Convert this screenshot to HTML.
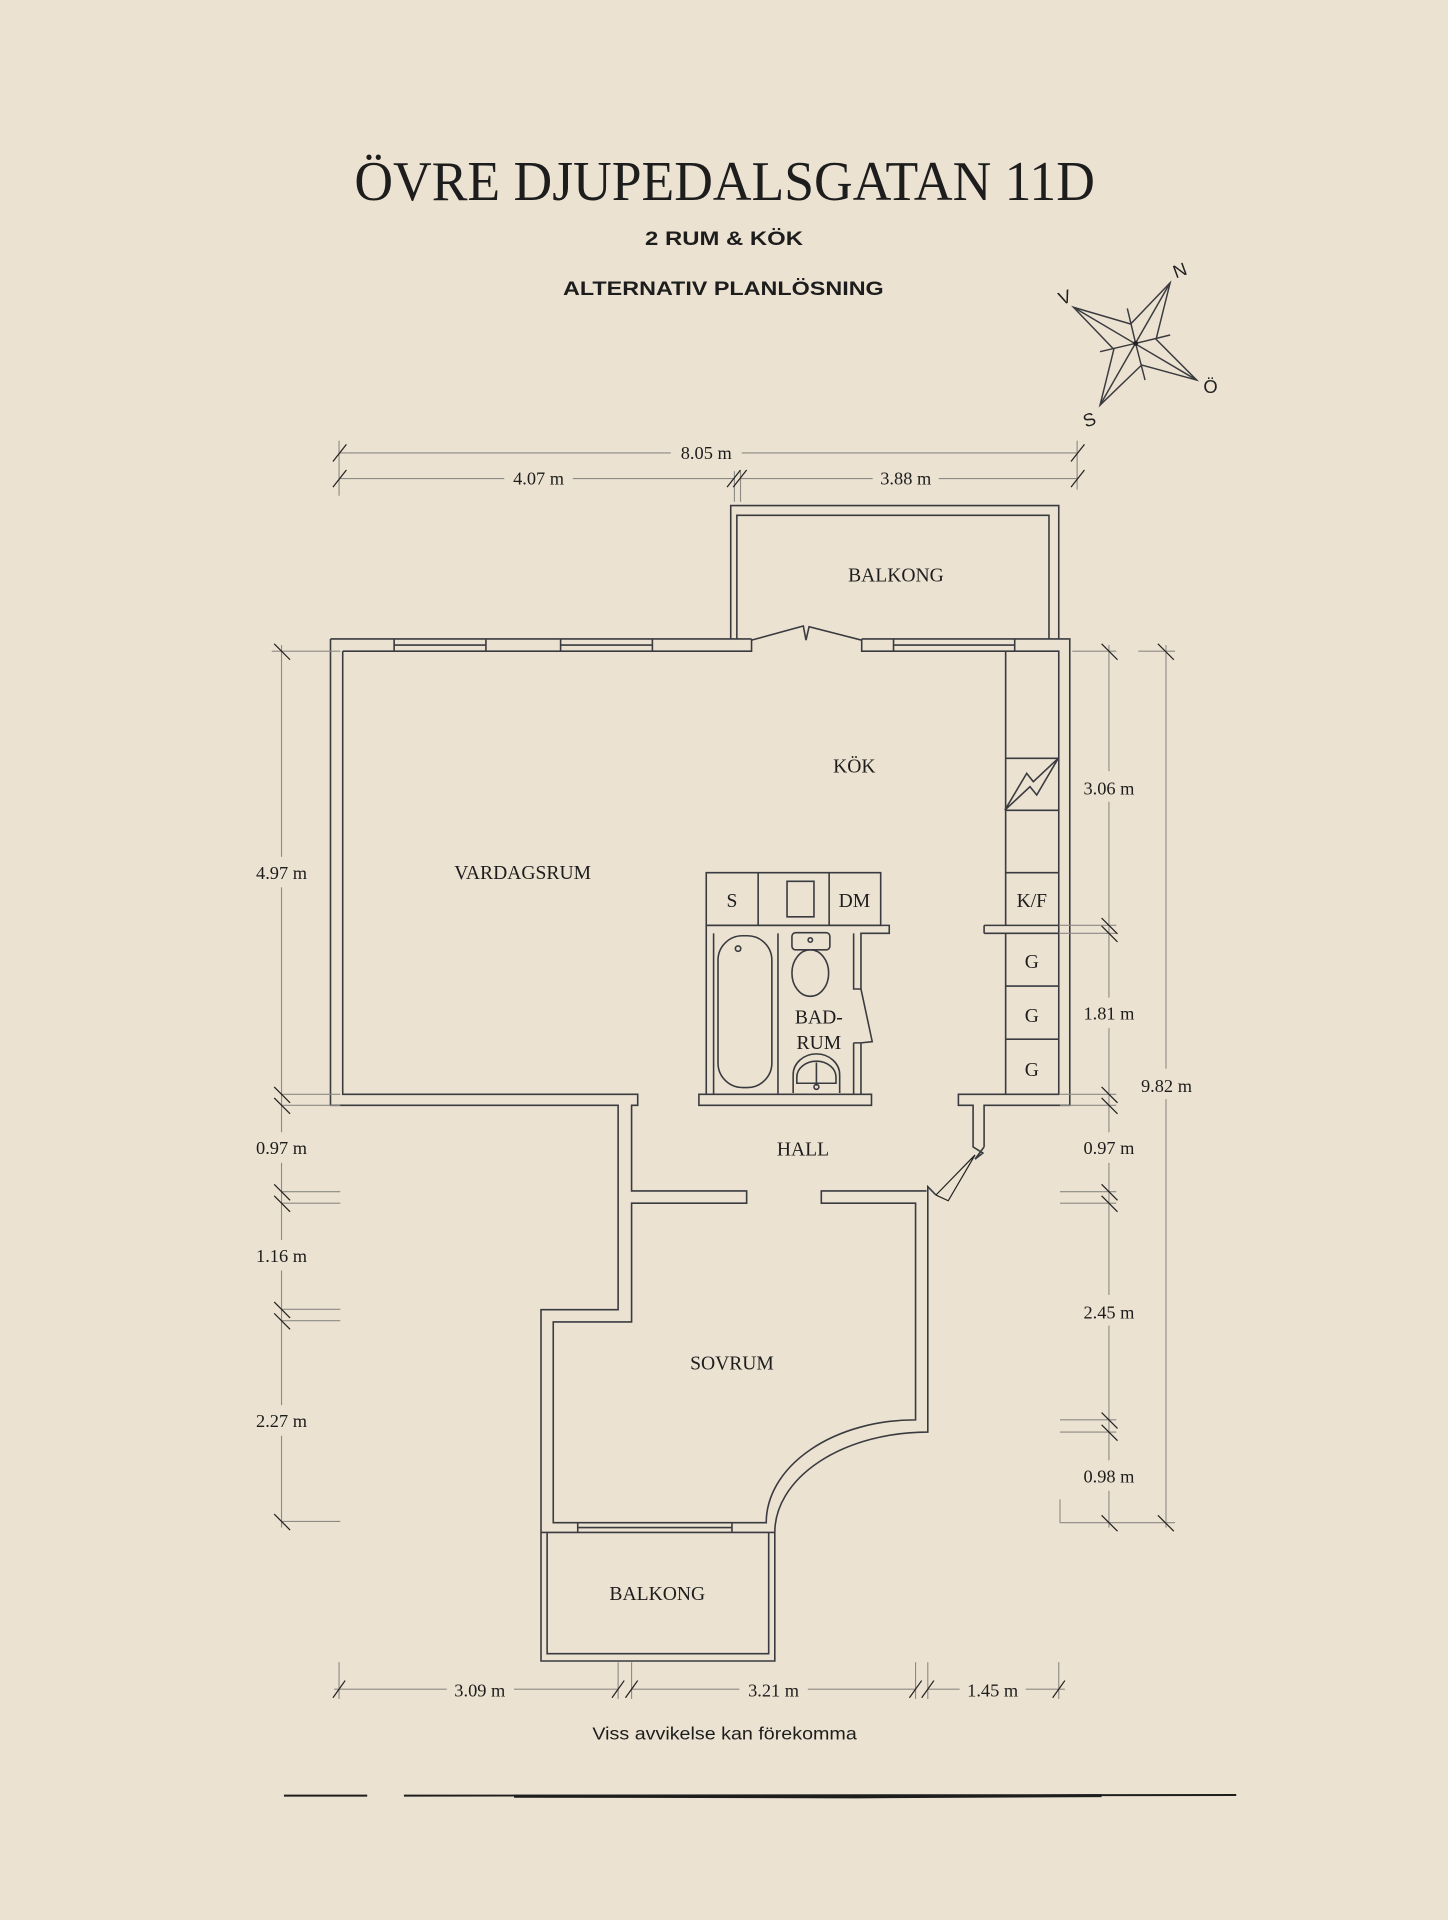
<!DOCTYPE html>
<html><head><meta charset="utf-8">
<style>
html,body{margin:0;padding:0;background:#ebe2d1;}
svg{display:block;}
.w{fill:none;stroke:#3a3b40;stroke-width:1.3;stroke-linejoin:miter;}
.d{fill:none;stroke:#8c8a85;stroke-width:0.9;}
.t{fill:none;stroke:#222;stroke-width:1;}
.lab{font-family:"Liberation Serif",serif;font-size:16px;fill:#1d1d1d;text-anchor:middle;}
.dim{font-family:"Liberation Serif",serif;font-size:15px;fill:#1d1d1d;text-anchor:middle;}
</style></head><body>
<svg width="1448" height="1920" viewBox="0 0 1183 1568.6" xmlns="http://www.w3.org/2000/svg">
<rect width="1183" height="1568.6" fill="#ebe2d1"/>
<!-- Title -->
<text x="592" y="163.5" font-family="Liberation Serif,serif" font-size="46" fill="#1d1d1d" text-anchor="middle" textLength="605" lengthAdjust="spacingAndGlyphs">ÖVRE DJUPEDALSGATAN 11D</text>
<text x="591.5" y="200" font-family="Liberation Sans,sans-serif" font-weight="bold" font-size="16" fill="#1d1d1d" text-anchor="middle" textLength="129" lengthAdjust="spacingAndGlyphs">2 RUM &amp; KÖK</text>
<text x="591" y="241" font-family="Liberation Sans,sans-serif" font-weight="bold" font-size="16" fill="#1d1d1d" text-anchor="middle" textLength="262" lengthAdjust="spacingAndGlyphs">ALTERNATIV PLANLÖSNING</text>

<!-- Compass -->
<g fill="none" stroke="#3a3b40" stroke-width="1.2">
<polygon points="956,231 923.7,264.7 877,251 910,285.4 898.7,331 932.7,298.2 977.7,310.5 944.5,277.2"/>
<line x1="956" y1="231" x2="898.7" y2="331"/>
<line x1="877" y1="251" x2="977.7" y2="310.5"/>
<polyline points="921,252 927.8,280.5 956,273.7"/>
<polyline points="935.5,310.5 927.8,280.5 898.7,287.3"/>
</g>
<circle cx="927.8" cy="280.5" r="2" fill="#222"/>
<g font-family="Liberation Sans,sans-serif" font-size="15" fill="#222" text-anchor="middle">
<text x="964" y="226" transform="rotate(-20 964 221)">N</text>
<text x="870" y="248" transform="rotate(-20 870 243)">V</text>
<text x="989" y="321">Ö</text>
<text x="890" y="348" transform="rotate(-20 890 343)">S</text>
</g>

<!-- Top dimensions -->
<g class="d">
<line x1="277" y1="370" x2="548" y2="370"/><line x1="606" y1="370" x2="880" y2="370"/>
<line x1="277" y1="391" x2="412" y2="391"/><line x1="468" y1="391" x2="600" y2="391"/>
<line x1="605" y1="391" x2="713" y2="391"/><line x1="767" y1="391" x2="880" y2="391"/>
<line x1="277" y1="360" x2="277" y2="405"/>
<line x1="600" y1="385" x2="600" y2="410"/><line x1="605" y1="385" x2="605" y2="410"/>
<line x1="880" y1="360" x2="880" y2="400"/>
</g>
<g class="t">
<line x1="272" y1="377" x2="283" y2="363"/><line x1="272" y1="398" x2="283" y2="384"/>
<line x1="594" y1="398" x2="605" y2="384"/><line x1="599" y1="398" x2="610" y2="384"/>
<line x1="875" y1="377" x2="886" y2="363"/><line x1="875" y1="398" x2="886" y2="384"/>
</g>
<text class="dim" x="577" y="375">8.05 m</text>
<text class="dim" x="440" y="396">4.07 m</text>
<text class="dim" x="740" y="396">3.88 m</text>

<!-- Top balcony -->
<path class="w" d="M597,522 V413 H865 V522 M602,522 V421 H857 V522"/>
<text class="lab" x="732" y="475">BALKONG</text>

<!-- Main walls -->
<path class="w" d="M270,522 H614 M704,522 H874 V903 H804 V937 M280,532 H614 V522 M704,522 V532 H865 V894 H783 V903 H795 V937 L803,942 L796.6,947 L804,937"/>
<!-- windows top -->
<path class="w" d="M322,522 V532 M397,522 V532 M322,527 H397 M458,522 V532 M533,522 V532 M458,527 H533 M730,522 V532 M829,522 V532 M730,527 H829"/>
<!-- balcony door leaves -->
<path class="w" d="M614,523 L656.3,511.4 L658.5,523 M704,523 L661,512 L658.5,523"/>
<!-- vardagsrum bottom & hall left, sovrum -->
<path class="w" d="M270,522 V903 H505 V1070 H442 V1357 H633 V1252 A125 82 0 0 1 758,1170 V973 L758,969.5 L764.7,976.3"/>
<path class="w" d="M280,532 V894 H521 V903 H516 V973 H610 V983 H516 V1080 H452 V1244 H626 A122 84 0 0 1 748,1160 V983 H671 V973 H757"/>
<path class="w" d="M447,1252 V1351 H628 V1252 M442,1252 H633"/>
<path class="w" d="M472,1244 V1252 M598,1244 V1252 M472,1248 H598"/>
<!-- door hall right -->
<path class="t" d="M796.6,943.6 L764.7,976.3 M796.6,943.6 L774.7,981 L764.7,976.3"/>

<!-- Kitchen cabinets -->
<path class="w" d="M821.6,532 V756 M821.6,619.5 H864.5 M821.6,662 H864.5 M821.6,713 H864.5 M804,756 H865 M804,762.5 H865 M804,756 V762.5 M821.6,762.5 V894 M821.6,805.6 H865 M821.6,849 H865"/>
<path class="w" d="M821,661.8 L838.8,631.8 L844.2,638.6 L864.6,619.5 L847,649.5 L841.5,642.7 Z"/>
<text class="lab" x="843" y="741">K/F</text>
<text class="lab" x="843" y="791">G</text>
<text class="lab" x="843" y="835">G</text>
<text class="lab" x="843" y="879">G</text>

<!-- Island -->
<path class="w" d="M577,713 H719.5 V756 H577 Z M619.4,713 V756 M677.4,713 V756 M643,720 H665 V749 H643 Z"/>
<text class="lab" x="598" y="741">S</text>
<text class="lab" x="698" y="741">DM</text>

<!-- Bathroom -->
<path class="w" d="M577,756 V894 M583,762.5 V894 M577,756 H726.5 V762.5 H703.4 V808 M697.4,762.5 V808 H703.4 M571,894 H712 V903 H571 Z M697.4,852 V894 M703.4,852 V894 M697.4,852 H703.4 M703.4,808 L712.6,851 L703.4,852"/>
<rect class="w" x="586.6" y="764.5" width="44" height="124" rx="20" ry="20"/>
<circle class="w" cx="603" cy="775" r="2.2"/>
<line class="w" x1="635.6" y1="762.5" x2="635.6" y2="894"/>
<rect class="w" x="647" y="762" width="31" height="14" rx="3"/>
<circle class="w" cx="662" cy="768" r="1.8"/>
<ellipse class="w" cx="662" cy="795" rx="15" ry="19"/>
<path class="w" d="M648,893 V878 A19 17 0 0 1 686,878 V893 M651,880 A16 13 0 0 1 683,880 V885 H651 Z M667,868 V887"/>
<circle class="w" cx="667" cy="888" r="2"/>
<text class="lab" x="669" y="836">BAD-</text>
<text class="lab" x="669" y="857">RUM</text>

<!-- Labels -->
<text class="lab" x="698" y="631">KÖK</text>
<text class="lab" x="427" y="718">VARDAGSRUM</text>
<text class="lab" x="656" y="944">HALL</text>
<text class="lab" x="598" y="1119">SOVRUM</text>
<text class="lab" x="537" y="1307">BALKONG</text>

<!-- Left dims -->
<g class="d">
<line x1="230" y1="527" x2="230" y2="700"/><line x1="230" y1="725" x2="230" y2="925"/>
<line x1="230" y1="950" x2="230" y2="1013"/><line x1="230" y1="1038" x2="230" y2="1148"/>
<line x1="230" y1="1173" x2="230" y2="1248"/>
<line x1="222" y1="532" x2="278" y2="532"/>
<line x1="230" y1="894" x2="278" y2="894"/><line x1="230" y1="903" x2="278" y2="903"/>
<line x1="230" y1="973.6" x2="278" y2="973.6"/><line x1="230" y1="983" x2="278" y2="983"/>
<line x1="230" y1="1069.7" x2="278" y2="1069.7"/><line x1="230" y1="1079" x2="278" y2="1079"/>
<line x1="230" y1="1243" x2="278" y2="1243"/>
</g>
<g class="t">
<line x1="224" y1="526" x2="237" y2="539"/>
<line x1="224" y1="888" x2="237" y2="901"/><line x1="224" y1="897" x2="237" y2="910"/>
<line x1="224" y1="967.6" x2="237" y2="980.6"/><line x1="224" y1="977" x2="237" y2="990"/>
<line x1="224" y1="1063.7" x2="237" y2="1076.7"/><line x1="224" y1="1073" x2="237" y2="1086"/>
<line x1="224" y1="1237" x2="237" y2="1250"/>
</g>
<text class="dim" x="230" y="718">4.97 m</text>
<text class="dim" x="230" y="943">0.97 m</text>
<text class="dim" x="230" y="1031">1.16 m</text>
<text class="dim" x="230" y="1166">2.27 m</text>

<!-- Right dims -->
<g class="d">
<line x1="906" y1="527" x2="906" y2="630"/><line x1="906" y1="655" x2="906" y2="815"/>
<line x1="906" y1="840" x2="906" y2="925"/><line x1="906" y1="950" x2="906" y2="1058"/>
<line x1="906" y1="1083" x2="906" y2="1193"/><line x1="906" y1="1218" x2="906" y2="1248"/>
<line x1="952.6" y1="527" x2="952.6" y2="873"/><line x1="952.6" y1="898" x2="952.6" y2="1248"/>
<line x1="876" y1="532" x2="912" y2="532"/><line x1="930" y1="532" x2="960" y2="532"/>
<line x1="866" y1="756" x2="912" y2="756"/><line x1="866" y1="762.5" x2="912" y2="762.5"/>
<line x1="866" y1="894" x2="912" y2="894"/><line x1="866" y1="903" x2="912" y2="903"/>
<line x1="866" y1="973.6" x2="912" y2="973.6"/><line x1="866" y1="983" x2="912" y2="983"/>
<line x1="866" y1="1160" x2="912" y2="1160"/><line x1="866" y1="1170" x2="912" y2="1170"/>
<line x1="866" y1="1244" x2="960" y2="1244"/>
<line x1="866" y1="1225" x2="866" y2="1244"/>
</g>
<g class="t">
<line x1="900" y1="526" x2="913" y2="539"/><line x1="946" y1="526" x2="959" y2="539"/>
<line x1="900" y1="750" x2="913" y2="763"/><line x1="900" y1="756.5" x2="913" y2="769.5"/>
<line x1="900" y1="888" x2="913" y2="901"/><line x1="900" y1="897" x2="913" y2="910"/>
<line x1="900" y1="967.6" x2="913" y2="980.6"/><line x1="900" y1="977" x2="913" y2="990"/>
<line x1="900" y1="1154" x2="913" y2="1167"/><line x1="900" y1="1164" x2="913" y2="1177"/>
<line x1="900" y1="1238" x2="913" y2="1251"/><line x1="946" y1="1238" x2="959" y2="1251"/>
</g>
<text class="dim" x="906" y="649">3.06 m</text>
<text class="dim" x="906" y="833">1.81 m</text>
<text class="dim" x="953" y="892">9.82 m</text>
<text class="dim" x="906" y="943">0.97 m</text>
<text class="dim" x="906" y="1077">2.45 m</text>
<text class="dim" x="906" y="1211">0.98 m</text>

<!-- Bottom dims -->
<g class="d">
<line x1="273" y1="1380" x2="365" y2="1380"/><line x1="420" y1="1380" x2="505" y2="1380"/>
<line x1="516" y1="1380" x2="604" y2="1380"/><line x1="660" y1="1380" x2="748" y2="1380"/>
<line x1="758" y1="1380" x2="784" y2="1380"/><line x1="838" y1="1380" x2="870" y2="1380"/>
<line x1="277" y1="1358" x2="277" y2="1388"/>
<line x1="505" y1="1358" x2="505" y2="1388"/><line x1="516" y1="1358" x2="516" y2="1388"/>
<line x1="748" y1="1358" x2="748" y2="1388"/><line x1="758" y1="1358" x2="758" y2="1388"/>
<line x1="865" y1="1358" x2="865" y2="1388"/>
</g>
<g class="t">
<line x1="272" y1="1387" x2="282" y2="1373"/>
<line x1="500" y1="1387" x2="510" y2="1373"/><line x1="511" y1="1387" x2="521" y2="1373"/>
<line x1="743" y1="1387" x2="753" y2="1373"/><line x1="753" y1="1387" x2="763" y2="1373"/>
<line x1="860" y1="1387" x2="870" y2="1373"/>
</g>
<text class="dim" x="392" y="1386">3.09 m</text>
<text class="dim" x="632" y="1386">3.21 m</text>
<text class="dim" x="811" y="1386">1.45 m</text>

<text x="592" y="1421" font-family="Liberation Sans,sans-serif" font-size="14" fill="#1d1d1d" text-anchor="middle" textLength="216" lengthAdjust="spacingAndGlyphs">Viss avvikelse kan förekomma</text>

<!-- brush line -->
<path d="M232,1467 L300,1467 M330,1467 L1010,1466.5" stroke="#1d1d1d" stroke-width="1.6" fill="none"/>
<path d="M420,1467.5 L700,1468 L900,1467" stroke="#1d1d1d" stroke-width="2.4" fill="none"/>
</svg>
</body></html>
